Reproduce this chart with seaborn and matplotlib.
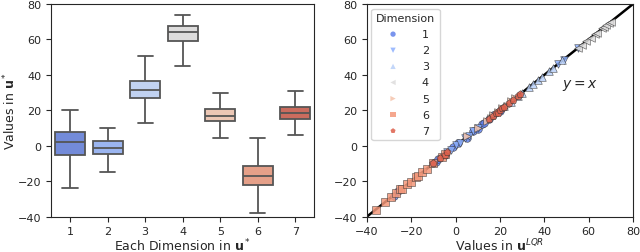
import pandas as pd
import numpy as np
import matplotlib.pyplot as plt
import seaborn as sns

# box summary per dimension: min, q1, median, q3, max
dims = [1, 2, 3, 4, 5, 6, 7]
box_vals = [
    [-24, -5, 2, 8, 20],
    [-15, -4.5, -1, 2.5, 10],
    [13, 27, 31.5, 36.5, 50.5],
    [45, 59, 64.5, 67.5, 74],
    [4.5, 14, 17, 21, 29.5],
    [-38, -22, -17, -11.5, 4.5],
    [6, 15, 18.5, 22, 31],
]

# scatter: u^LQR vs u* per dimension
lqr_1 = [-28, -26, -10, -9, -8, -5, -1, 1, 5, 8, 10, 12, 13, 15, 17, 20]
star_1 = [-28.3, -25.6, -9.6, -9.3, -7.7, -5.2, -0.8, 1.3, 4.6, 8.3, 9.7, 12.4, 12.7, 15.2, 17.3, 19.8]
lqr_2 = [-4, -2, 0, 2, 4, 6, 8, 10, 46, 49, 55]
star_2 = [-3.7, -2.3, 0.3, 1.8, 4.2, 5.7, 8.3, 9.8, 46.4, 48.6, 55.3]
lqr_3 = [22, 25, 28, 30, 33, 35, 37, 39, 42, 44, 48]
star_3 = [22.3, 24.7, 28.2, 29.8, 33.3, 34.8, 37.2, 38.7, 42.3, 43.8, 48.2]
lqr_4 = [55, 57, 59, 61, 63, 64, 66, 67, 68, 69, 70]
star_4 = [55.2, 56.8, 59.3, 60.7, 63.2, 63.8, 66.3, 66.8, 68.2, 69.1, 69.8]
lqr_5 = [5, 10, 14, 16, 17, 19, 21, 23, 25, 27]
star_5 = [5.3, 9.8, 14.2, 15.7, 17.3, 18.8, 21.2, 22.7, 25.3, 26.8]
lqr_6 = [-36, -32, -29, -27, -25, -24, -22, -20, -18, -17, -15, -13, -10, -6, -5]
star_6 = [-36.2, -31.7, -29.2, -26.8, -24.7, -24.3, -21.8, -20.3, -17.7, -17.2, -14.8, -13.3, -9.7, -6.2, -4.8]
lqr_7 = [-10, -7, -5, -4, 15, 17, 18, 19, 20, 21, 22, 24, 26, 28, 29]
star_7 = [-9.7, -7.2, -5.3, -3.8, 15.2, 16.8, 18.3, 18.7, 20.2, 21.3, 21.8, 24.2, 25.7, 28.3, 29.2]

box_df = pd.DataFrame({
    "dim": np.repeat(dims, 5),
    "val": np.concatenate(box_vals),
})
sc_df = pd.DataFrame({
    "lqr": lqr_1 + lqr_2 + lqr_3 + lqr_4 + lqr_5 + lqr_6 + lqr_7,
    "star": star_1 + star_2 + star_3 + star_4 + star_5 + star_6 + star_7,
    "dim": [1] * len(lqr_1) + [2] * len(lqr_2) + [3] * len(lqr_3) + [4] * len(lqr_4)
    + [5] * len(lqr_5) + [6] * len(lqr_6) + [7] * len(lqr_7),
})

pal = sns.color_palette("coolwarm", 7)
markers = ["o", "v", "^", "<", ">", "s", "p"]

sns.set_style("ticks")
plt.rcParams["font.family"] = ["DejaVu Sans"]

fig = plt.figure(figsize=(6.4, 2.53), dpi=100)
ax1 = fig.add_axes([0.08, 0.14, 0.411, 0.84])
ax2 = fig.add_axes([0.5734, 0.14, 0.4156, 0.84])

sns.boxplot(data=box_df, x="dim", y="val", hue="dim", palette=pal, legend=False,
            whis=(0, 100), width=0.8, linecolor="#555555", linewidth=1.3, ax=ax1)
ax1.set_ylim(-40, 80)
ax1.set_yticks([-40, -20, 0, 20, 40, 60, 80])
ax1.set_xlabel(r"Each Dimension in $\mathbf{u}^*$", fontsize=9, labelpad=0)
ax1.set_ylabel(r"Values in $\mathbf{u}^*$", fontsize=9, labelpad=0)
ax1.tick_params(labelsize=8)

ax2.plot([-40, 80], [-40, 80], color="k", lw=1.8, zorder=1)
for i, d in enumerate(dims):
    sub = sc_df[sc_df["dim"] == d]
    ax2.scatter(sub["lqr"], sub["star"], color=pal[i], marker=markers[i], s=30,
                edgecolor="#333333", linewidth=0.4, alpha=0.85, label=str(d), zorder=2)
ax2.set_xlim(-40, 80)
ax2.set_ylim(-40, 80)
ax2.set_xticks([-40, -20, 0, 20, 40, 60, 80])
ax2.set_yticks([-40, -20, 0, 20, 40, 60, 80])
ax2.set_xlabel(r"Values in $\mathbf{u}^{LQR}$", fontsize=9, labelpad=0)
ax2.tick_params(labelsize=8)
ax2.text(48, 33, r"$y = x$", fontsize=10)
leg = ax2.legend(title="Dimension", loc="upper left", fontsize=8, title_fontsize=8,
                 markerscale=0.7, handletextpad=1.6, labelspacing=0.55, borderaxespad=0.4)
for h in leg.legend_handles:
    h.set_edgecolor("none")

fig.savefig("out.png", dpi=100)
